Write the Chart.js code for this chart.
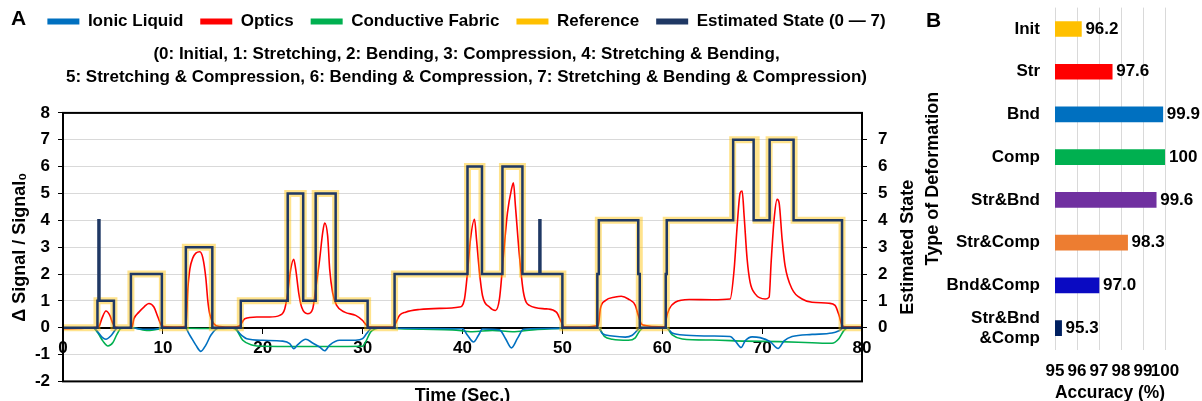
<!DOCTYPE html>
<html>
<head>
<meta charset="utf-8">
<script src="https://cdn.jsdelivr.net/npm/chart.js@4.4.1/dist/chart.umd.min.js"></script>
<style>
  html, body { margin: 0; padding: 0; background: #fff; overflow: hidden; }
  body { width: 1202px; height: 401px; position: relative; font-family: 'Liberation Sans', Arial, sans-serif; }
  .panel { position: absolute; font-weight: bold; font-size: 21px; color: #000; }
  #boxA { position: absolute; left: 0; top: 0; width: 925px; height: 411px; }
  #boxB { position: absolute; left: 918px; top: 0; width: 284px; height: 408px; }
</style>
</head>
<body>
<div id="boxA"><canvas id="chartA"></canvas></div>
<div id="boxB"><canvas id="chartB"></canvas></div>
<div class="panel" style="left:11px;top:6px">A</div>
<div class="panel" style="left:926px;top:8px">B</div>
<script>
// ---- panel A data: [time (s), value] ----
const ionicLiquid = [[0,0],[3.0,0],[3.4,-0.12],[3.9,-0.35],[4.3,-0.43],[4.8,-0.3],[5.2,-0.1],[5.5,0],[6.9,0],[7.5,-0.04],[8.5,-0.06],[9.5,-0.04],[9.9,0],
  [12.2,0],[12.7,-0.28],[13.3,-0.65],[13.8,-0.88],[14.3,-0.65],[14.8,-0.28],[15.3,-0.06],[15.8,0],
  [17.2,0],[17.7,-0.22],[18.4,-0.41],[20.0,-0.47],[22.0,-0.5],[22.7,-0.59],[23.1,-0.78],[23.5,-0.63],[24.3,-0.43],[25.0,-0.57],[25.7,-0.72],[26.2,-0.86],[26.7,-0.65],[27.7,-0.47],[29.3,-0.47],[30.0,-0.41],[30.4,-0.22],[30.8,-0.04],[31.3,0],
  [33.2,-0.02],[40.0,-0.04],[40.5,-0.28],[41.1,-0.53],[41.6,-0.28],[42.0,-0.05],[43.7,-0.08],[44.3,-0.4],[44.9,-0.75],[45.5,-0.4],[46.1,-0.06],[48,-0.03],[50,-0.02],
  [53.6,0],[54.0,-0.22],[55.0,-0.31],[56.3,-0.35],[57.0,-0.28],[57.5,-0.1],[57.8,0],
  [60.4,0],[61.0,-0.2],[62.4,-0.28],[65.0,-0.31],[66.8,-0.33],[67.3,-0.49],[67.9,-0.74],[68.3,-0.49],[69.0,-0.34],[69.8,-0.37],[70.8,-0.52],[71.6,-0.77],[72.2,-0.49],[73.0,-0.33],[75.0,-0.25],[77.0,-0.2],[77.7,-0.11],[78.2,0],[80,0]];

const optics = [[0,-0.04],[1.5,-0.03],[3.0,0],[3.6,0.05],[3.9,0.35],[4.3,0.62],[4.7,0.45],[5.0,0.15],[5.3,0.02],[6.0,0],
  [6.9,0.02],[7.1,0.33],[7.6,0.58],[8.1,0.77],[8.6,0.9],[9.1,0.77],[9.5,0.4],[9.9,0.07],[10.5,0.03],[11.5,0.02],
  [12.3,0.05],[12.5,1.44],[12.7,2.18],[13.0,2.6],[13.3,2.78],[13.7,2.83],[14.0,2.6],[14.3,1.85],[14.5,1.0],[14.7,0.5],[15.1,0.15],[15.7,0.04],[17.0,0.02],
  [17.7,0.08],[18.2,0.33],[19.4,0.4],[20.7,0.4],[21.7,0.46],[22.2,0.7],[22.5,1.3],[22.8,2.18],[23.1,2.55],[23.3,2.18],[23.6,1.3],[23.9,0.76],[24.5,0.52],
  [25.0,0.7],[25.3,1.44],[25.7,2.55],[26.0,3.54],[26.2,3.9],[26.5,3.41],[26.7,2.18],[27.0,1.3],[27.4,0.83],[28.2,0.58],[29.3,0.46],[30.0,0.27],[30.4,0.09],[31.0,0.02],
  [33.0,0.02],[33.2,0.09],[33.7,0.46],[34.3,0.58],[35.7,0.68],[37.7,0.72],[39.7,0.77],[40.2,1.07],[40.5,2.06],[40.8,3.3],[41.2,4.04],[41.4,3.3],[41.7,2.06],[42.0,1.2],[42.7,0.77],[43.3,0.64],
  [43.7,1.07],[44.1,2.68],[44.5,4.28],[44.9,5.15],[45.1,5.4],[45.3,4.53],[45.7,2.68],[46.1,1.32],[46.7,0.83],[48.4,0.7],[49.4,0.58],[49.9,0.21],[50.2,0.02],[52,0.02],
  [53.6,0.09],[53.8,0.7],[54.3,1.01],[55.3,1.14],[55.9,1.17],[56.6,1.07],[57.3,0.83],[57.6,0.46],[57.9,0.15],[58.3,0.08],[59.7,0.03],[60.3,0.03],
  [60.4,0.33],[60.7,0.7],[61.3,0.95],[62.7,1.05],[65.0,1.04],[66.8,1.07],[67.2,2.18],[67.5,3.79],[67.8,5.02],[68.0,5.09],[68.2,4.15],[68.5,2.55],[68.8,1.69],[69.3,1.26],[70.3,1.07],
  [70.7,1.14],[70.9,2.42],[71.2,4.04],[71.5,4.78],[71.7,4.65],[72.0,3.3],[72.3,2.3],[73.0,1.44],[74.0,1.07],[75.0,0.95],[76.7,0.91],[77.3,0.83],[77.7,0.46],[78.0,0.09],[78.4,0.03],[80,0.03]];

const conductiveFabric = [[0,0],[3.0,0],[3.5,-0.2],[4.0,-0.5],[4.5,-0.68],[5.0,-0.55],[5.4,-0.25],[5.8,-0.03],[6.9,0],[8.0,-0.08],[8.7,-0.1],[9.5,-0.06],[10.0,0],
  [12.3,-0.02],[15.0,-0.03],[17.0,-0.02],[17.4,-0.1],[18.0,-0.47],[19.0,-0.65],[20.0,-0.69],[25,-0.7],[30.0,-0.69],[30.3,-0.53],[30.8,-0.16],[31.3,-0.04],[32,0],
  [33.2,-0.03],[36,-0.06],[39,-0.08],[41,-0.15],[43,-0.1],[45,-0.15],[47,-0.08],[50,-0.03],
  [53.6,0],[54.2,-0.32],[55.0,-0.43],[56.6,-0.47],[57.3,-0.38],[57.7,-0.14],[58.1,-0.01],
  [60.4,0],[61.0,-0.27],[62.0,-0.42],[65.0,-0.46],[68.3,-0.5],[71.7,-0.52],[75.0,-0.56],[77.0,-0.58],[77.7,-0.4],[78.2,-0.1],[78.7,0],[80,0]];

// state changes: value holds from each time until the next one
const refTime  = [0,3.4,5.1,6.8,9.95,12.25,14.95,17.75,22.5,24.05,25.25,27.3,30.5,33.2,40.5,41.95,44.0,46.0,50.05,53.6,57.7,60.4,67.05,69.4,70.7,73.2,78.0,80];
const refState = [0,1,0,2,0,3,0,1,5,1,5,1,0,2,6,2,6,2,0,4,0,4,7,4,7,4,0,0];
const estTime  = [0,3.45,3.55,3.65,5.1,6.8,9.9,12.3,14.95,17.8,22.5,24.05,25.3,27.3,30.5,33.2,40.5,41.95,44.0,46.0,47.7,47.8,50.0,53.5,53.65,57.6,57.75,60.35,60.45,67.1,69.15,70.75,73.15,78.0,80];
const estState = [0,1,4,1,0,2,0,3,0,1,5,1,5,1,0,2,6,2,6,2,4,2,0,2,4,2,0,2,4,7,4,7,4,0,0];

// ---- panel B data ----
const deformLabels = ['Init', 'Str', 'Bnd', 'Comp', 'Str&Bnd', 'Str&Comp', 'Bnd&Comp', ['Str&Bnd', '&Comp']];
const accuracy = [96.2, 97.6, 99.9, 100, 99.6, 98.3, 97.0, 95.3];
const barColors = ['#FFC000', '#FF0000', '#0070C0', '#00B050', '#7030A0', '#ED7D31', '#0A0AC2', '#002060'];

const FONT = "'Liberation Sans', Arial, sans-serif";
Chart.defaults.font.family = FONT;
Chart.defaults.font.weight = 'bold';
Chart.defaults.color = '#000';

const pts = arr => arr.map(([x, y]) => ({ x, y }));
const steps = (ts, vs) => ts.map((t, i) => ({ x: t, y: vs[i] }));

const plotFrame = {
  id: 'plotFrame',
  afterDraw(chart) {
    const { ctx, chartArea: a } = chart;
    ctx.save();
    ctx.strokeStyle = '#000';
    ctx.lineWidth = 2;
    ctx.strokeRect(a.left, a.top, a.right - a.left, a.bottom - a.top);
    // right axis title reads bottom-to-top like the left one
    const s = chart.scales.y1;
    ctx.translate(s.right - 17, (a.top + a.bottom) / 2);
    ctx.rotate(-Math.PI / 2);
    ctx.font = 'bold 18px ' + FONT;
    ctx.fillStyle = '#000';
    ctx.textAlign = 'center';
    ctx.textBaseline = 'middle';
    ctx.fillText('Estimated State', 0, 0);
    ctx.restore();
  }
};

const lineSet = (label, data, color, order) => ({
  label, data: pts(data), borderColor: color, backgroundColor: color,
  borderWidth: 1.6, pointRadius: 0, cubicInterpolationMode: 'monotone', order
});

new Chart(document.getElementById('chartA'), {
  type: 'line',
  data: {
    datasets: [
      lineSet('Ionic Liquid', ionicLiquid, '#0070C0', 2),
      lineSet('Optics', optics, '#FF0000', 3),
      lineSet('Conductive Fabric', conductiveFabric, '#00B050', 4),
      {
        label: 'Reference', data: steps(refTime, refState), yAxisID: 'y1',
        borderColor: 'rgba(255, 192, 0, 0.45)', backgroundColor: '#FFC000',
        borderWidth: 7, pointRadius: 0, stepped: 'before', order: 1
      },
      {
        label: 'Estimated State (0 \u2014 7)', data: steps(estTime, estState), yAxisID: 'y1',
        borderColor: '#1F3864', backgroundColor: '#1F3864',
        borderWidth: 2.5, pointRadius: 0, stepped: 'before', order: 0
      }
    ]
  },
  options: {
    responsive: true,
    maintainAspectRatio: false,
    animation: false,
    layout: { padding: { left: 8, right: 0, top: -4, bottom: 0 } },
    plugins: {
      tooltip: { enabled: false },
      legend: {
        weight: 2500,
        labels: {
          boxWidth: 32, boxHeight: 6, padding: 17,
          font: { size: 17, weight: 'bold' }, color: '#000',
          generateLabels(chart) {
            const items = Chart.defaults.plugins.legend.labels.generateLabels(chart);
            items.forEach(it => { it.lineWidth = 0; it.strokeStyle = 'rgba(0,0,0,0)'; });
            return items.sort((a, b) => a.datasetIndex - b.datasetIndex);
          }
        }
      },
      subtitle: {
        display: true,
        text: ['(0: Initial, 1: Stretching, 2: Bending, 3: Compression, 4: Stretching & Bending,',
               '5: Stretching & Compression, 6: Bending & Compression, 7: Stretching & Bending & Compression)'],
        font: { size: 17, weight: 'bold', lineHeight: 1.35 }, color: '#000',
        padding: { top: 2.5, bottom: 24.5 }
      }
    },
    scales: {
      x: {
        type: 'linear', min: 0, max: 80, position: { y: 0 },
        ticks: { stepSize: 10, font: { size: 17 }, padding: 5 },
        grid: { drawOnChartArea: false, tickLength: 5, color: '#000' },
        border: { color: '#000', width: 2 }
      },
      xb: {
        type: 'linear', min: 0, max: 80, position: 'bottom',
        ticks: { display: false },
        grid: { display: false, drawTicks: false },
        border: { display: false },
        title: { display: true, text: 'Time (Sec.)', font: { size: 18 }, padding: { top: 4, bottom: 4 } }
      },
      y: {
        min: -2, max: 8,
        afterFit(s) { s.width = 55; },
        ticks: { stepSize: 1, font: { size: 17 }, padding: 8 },
        grid: {
          color: c => (c.tick && c.tick.value === 0) ? 'rgba(0,0,0,0)' : '#d9d9d9',
          tickColor: '#000', tickLength: 5
        },
        border: { color: '#000', width: 2 },
        title: { display: true, text: '\u0394 Signal / Signal\u2080', font: { size: 18 }, padding: { top: 1, bottom: 4 } }
      },
      y1: {
        min: -2, max: 8, position: 'right',
        afterFit(s) { s.width = 63; },
        afterBuildTicks(s) { s.ticks = s.ticks.filter(t => t.value >= 0 && t.value <= 7); },
        ticks: { stepSize: 1, font: { size: 17 }, padding: 11 },
        grid: { drawOnChartArea: false, tickLength: 5, color: '#000' },
        border: { color: '#000', width: 2 }
      }
    }
  },
  plugins: [plotFrame]
});

const barValueLabels = {
  id: 'barValueLabels',
  afterDatasetsDraw(chart) {
    const { ctx } = chart;
    const meta = chart.getDatasetMeta(0);
    ctx.save();
    ctx.font = 'bold 17px ' + FONT;
    ctx.fillStyle = '#000';
    ctx.textBaseline = 'middle';
    meta.data.forEach((bar, i) => {
      const v = accuracy[i];
      ctx.fillText(v === 100 ? '100' : v.toFixed(1), bar.x + 4, bar.y);
    });
    ctx.restore();
  }
};

new Chart(document.getElementById('chartB'), {
  type: 'bar',
  data: {
    labels: deformLabels,
    datasets: [{ data: accuracy, backgroundColor: barColors, barThickness: 15 }]
  },
  options: {
    indexAxis: 'y',
    responsive: true,
    maintainAspectRatio: false,
    animation: false,
    layout: { padding: { left: 0, right: 37, top: 7.6, bottom: 0 } },
    plugins: { legend: { display: false }, tooltip: { enabled: false } },
    scales: {
      x: {
        min: 95, max: 100,
        ticks: { stepSize: 1, font: { size: 17 }, padding: 12, autoSkip: false, maxRotation: 0 },
        grid: { color: '#d9d9d9', drawTicks: false },
        border: { display: false },
        title: { display: true, text: 'Accuracy (%)', font: { size: 18 }, padding: { top: -11.5, bottom: 4 } }
      },
      y: {
        afterFit(s) { s.width = 137; s.paddingTop = 0; s.paddingBottom = 0; },
        ticks: { font: { size: 17 }, padding: 15, autoSkip: false },
        grid: { display: false, drawTicks: false },
        border: { display: false },
        title: { display: true, text: 'Type of Deformation', font: { size: 18 }, padding: { top: 4, bottom: 4 } }
      }
    }
  },
  plugins: [barValueLabels]
});
</script>
</body>
</html>
